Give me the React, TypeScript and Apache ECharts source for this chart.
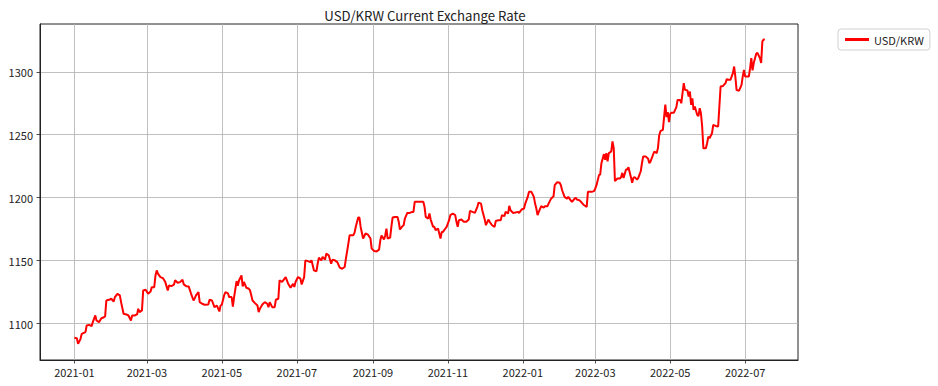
import React, { useEffect, useRef } from "react";
import * as echarts from "echarts";

const dates: string[] = [
  "2021-01-01","2021-01-03","2021-01-04","2021-01-06","2021-01-07","2021-01-10","2021-01-11","2021-01-13","2021-01-15","2021-01-16","2021-01-18","2021-01-19","2021-01-21","2021-01-23","2021-01-25","2021-01-26","2021-01-27","2021-01-30","2021-01-31",
  "2021-02-02","2021-02-03","2021-02-05","2021-02-07","2021-02-08","2021-02-10","2021-02-13","2021-02-14","2021-02-16","2021-02-17","2021-02-19","2021-02-21","2021-02-22","2021-02-23","2021-02-25","2021-02-26","2021-02-28",
  "2021-03-02","2021-03-04","2021-03-05","2021-03-07","2021-03-08","2021-03-09","2021-03-10","2021-03-12","2021-03-14","2021-03-16","2021-03-18","2021-03-19","2021-03-21","2021-03-23","2021-03-24","2021-03-26","2021-03-28","2021-03-30","2021-03-31",
  "2021-04-02","2021-04-04","2021-04-06","2021-04-08","2021-04-09","2021-04-10","2021-04-12","2021-04-13","2021-04-15","2021-04-17","2021-04-20","2021-04-21","2021-04-23","2021-04-25","2021-04-27","2021-04-29","2021-04-30",
  "2021-05-01","2021-05-03","2021-05-04","2021-05-06","2021-05-07","2021-05-09","2021-05-10","2021-05-11","2021-05-13","2021-05-14","2021-05-15","2021-05-17","2021-05-18","2021-05-19","2021-05-21","2021-05-23","2021-05-24","2021-05-26","2021-05-28","2021-05-30","2021-05-31",
  "2021-06-01","2021-06-03","2021-06-05","2021-06-07","2021-06-08","2021-06-09","2021-06-11","2021-06-13","2021-06-14","2021-06-16","2021-06-17","2021-06-19","2021-06-20","2021-06-22","2021-06-24","2021-06-26","2021-06-28","2021-06-29","2021-06-30",
  "2021-07-02","2021-07-04","2021-07-05","2021-07-07","2021-07-08","2021-07-10","2021-07-12","2021-07-13","2021-07-15","2021-07-17","2021-07-18","2021-07-19","2021-07-21","2021-07-22","2021-07-24","2021-07-25","2021-07-27","2021-07-29","2021-07-30",
  "2021-08-01","2021-08-03","2021-08-05","2021-08-07","2021-08-09","2021-08-10","2021-08-12","2021-08-13","2021-08-16","2021-08-17","2021-08-18","2021-08-20","2021-08-21","2021-08-22","2021-08-24","2021-08-26","2021-08-28","2021-08-30","2021-08-31",
  "2021-09-02","2021-09-04","2021-09-06","2021-09-07","2021-09-08","2021-09-10","2021-09-11","2021-09-12","2021-09-13","2021-09-15","2021-09-16","2021-09-17","2021-09-19","2021-09-21","2021-09-22","2021-09-23","2021-09-25","2021-09-26","2021-09-27","2021-09-29",
  "2021-10-01","2021-10-03","2021-10-04","2021-10-05","2021-10-07","2021-10-10","2021-10-12","2021-10-13","2021-10-14","2021-10-16","2021-10-17","2021-10-18","2021-10-20","2021-10-21","2021-10-22","2021-10-24","2021-10-25","2021-10-26","2021-10-27","2021-10-28","2021-10-30","2021-10-31",
  "2021-11-02","2021-11-03","2021-11-05","2021-11-07","2021-11-08","2021-11-09","2021-11-10","2021-11-12","2021-11-14","2021-11-16","2021-11-18","2021-11-19","2021-11-21","2021-11-23","2021-11-25","2021-11-26","2021-11-28","2021-11-29",
  "2021-12-01","2021-12-02","2021-12-04","2021-12-05","2021-12-07","2021-12-09","2021-12-10","2021-12-12","2021-12-14","2021-12-15","2021-12-17","2021-12-18","2021-12-20","2021-12-21","2021-12-22","2021-12-24","2021-12-26","2021-12-28","2021-12-29","2021-12-31",
  "2022-01-02","2022-01-03","2022-01-05","2022-01-06","2022-01-08","2022-01-10","2022-01-11","2022-01-12","2022-01-13","2022-01-14","2022-01-16","2022-01-18","2022-01-19","2022-01-21","2022-01-22","2022-01-24","2022-01-26","2022-01-27","2022-01-29","2022-01-31",
  "2022-02-01","2022-02-02","2022-02-04","2022-02-06","2022-02-07","2022-02-09","2022-02-10","2022-02-11","2022-02-13","2022-02-14","2022-02-16","2022-02-17","2022-02-19","2022-02-20","2022-02-22","2022-02-23","2022-02-26","2022-02-28",
  "2022-03-01","2022-03-02","2022-03-04","2022-03-05","2022-03-06","2022-03-08","2022-03-09","2022-03-10","2022-03-11","2022-03-12","2022-03-14","2022-03-15","2022-03-16","2022-03-17","2022-03-19","2022-03-21","2022-03-22","2022-03-23","2022-03-24","2022-03-26","2022-03-27","2022-03-28","2022-03-30","2022-03-31",
  "2022-04-01","2022-04-02","2022-04-04","2022-04-05","2022-04-07","2022-04-08","2022-04-09","2022-04-11","2022-04-13","2022-04-14","2022-04-15","2022-04-17","2022-04-18","2022-04-20","2022-04-21","2022-04-22","2022-04-23","2022-04-25","2022-04-26","2022-04-27","2022-04-28","2022-04-29","2022-04-30",
  "2022-05-01","2022-05-02","2022-05-04","2022-05-06","2022-05-07","2022-05-09","2022-05-10","2022-05-12","2022-05-13","2022-05-15","2022-05-16","2022-05-17","2022-05-18","2022-05-19","2022-05-20","2022-05-21","2022-05-23","2022-05-24","2022-05-25","2022-05-26","2022-05-27","2022-05-28","2022-05-30","2022-05-31",
  "2022-06-01","2022-06-02","2022-06-04","2022-06-05","2022-06-07","2022-06-09","2022-06-10","2022-06-11","2022-06-13","2022-06-15","2022-06-16","2022-06-18","2022-06-19","2022-06-21","2022-06-22","2022-06-23","2022-06-24","2022-06-26","2022-06-28","2022-06-29","2022-06-30",
  "2022-07-01","2022-07-02","2022-07-04","2022-07-05","2022-07-06","2022-07-07","2022-07-08","2022-07-10","2022-07-11","2022-07-13","2022-07-14","2022-07-15","2022-07-16","2022-07-17",
];

const rates: number[] = [
  1088.6,1088.3,1083.8,1087.8,1091.8,1093.1,1098.4,1098.9,1097.9,1101.1,1106.4,1102.4,1101.1,1104.2,1105.0,1105.6,1118.3,1119.1,1119.7,
  1117.5,1121.0,1123.6,1122.3,1117.0,1107.7,1106.9,1106.4,1102.4,1106.4,1106.4,1107.2,1111.7,1109.0,1110.4,1126.3,1126.8,
  1123.6,1125.5,1128.9,1128.9,1138.2,1142.2,1139.6,1136.9,1136.1,1132.9,1126.3,1130.3,1129.7,1130.8,1134.3,1132.4,1132.9,1134.8,1131.1,
  1129.7,1129.5,1123.6,1118.3,1120.2,1122.3,1125.0,1117.0,1115.7,1114.9,1115.1,1118.9,1118.3,1113.0,1114.3,1109.6,1114.3,
  1114.9,1122.8,1124.9,1124.0,1121.0,1121.0,1113.5,1121.0,1133.7,1130.0,1134.2,1138.2,1129.5,1133.0,1128.4,1127.6,1126.3,1118.3,1116.2,1114.3,1109.0,
  1111.7,1115.1,1117.0,1115.7,1113.0,1117.0,1113.0,1113.0,1118.9,1119.7,1134.3,1133.0,1134.3,1136.9,1131.6,1128.4,1131.6,1129.0,1133.0,
  1136.9,1135.6,1131.0,1136.9,1150.2,1149.6,1148.8,1150.2,1142.2,1141.4,1147.5,1152.3,1150.2,1152.9,1150.7,1155.5,1154.2,1147.5,1150.7,
  1150.2,1148.8,1144.4,1143.5,1144.9,1151.5,1163.5,1170.1,1170.1,1172.0,1176.7,1184.2,1184.2,1176.7,1167.5,1171.5,1170.6,1167.5,1159.5,
  1157.6,1157.3,1158.7,1166.1,1170.0,1166.7,1170.0,1175.4,1167.5,1168.3,1176.8,1184.2,1184.7,1184.7,1180.8,1174.7,1177.3,1178.1,1183.4,1187.9,
  1187.9,1188.7,1188.7,1196.7,1196.7,1196.7,1196.7,1192.7,1184.7,1183.4,1187.4,1182.6,1176.8,1176.8,1174.2,1175.5,1171.5,1167.5,1172.8,1172.8,1175.5,1176.8,
  1182.1,1186.1,1187.4,1186.1,1180.8,1176.8,1182.1,1182.6,1180.8,1180.8,1182.6,1189.5,1188.7,1187.9,1192.7,1196.1,1195.3,1190.0,
  1182.6,1178.1,1182.6,1180.8,1178.1,1176.8,1181.5,1182.1,1182.1,1186.1,1185.3,1188.7,1187.4,1193.5,1190.0,1187.9,1188.2,1188.7,1187.9,1190.6,
  1191.4,1195.3,1200.6,1204.6,1204.6,1200.6,1195.3,1191.4,1186.1,1188.7,1193.2,1192.1,1193.2,1193.2,1195.3,1199.2,1201.1,1209.9,1212.3,1211.8,
  1209.9,1205.9,1200.6,1199.2,1200.6,1197.9,1196.6,1197.9,1200.0,1198.5,1197.9,1197.1,1194.8,1194.0,1192.7,1204.6,1204.6,1205.2,
  1207.3,1209.9,1217.9,1218.5,1227.4,1234.6,1230.1,1235.4,1228.8,1235.4,1236.7,1244.7,1239.4,1213.1,1215.2,1215.2,1216.3,1219.7,1215.7,1222.4,1222.4,1224.2,1216.3,1211.8,
  1215.7,1216.3,1214.4,1215.7,1221.0,1227.4,1232.8,1232.8,1231.0,1227.4,1228.8,1234.1,1236.7,1235.4,1239.4,1249.4,1252.8,1253.9,1264.0,1273.9,1264.0,1268.0,1260.0,
  1266.6,1267.5,1267.5,1272.0,1277.7,1277.7,1275.0,1291.0,1285.7,1285.2,1280.4,1284.3,1273.7,1279.0,1269.7,1272.4,1265.7,1264.9,1271.1,1267.0,1256.4,1239.2,1239.2,1243.2,
  1248.5,1247.2,1251.2,1257.8,1257.0,1256.5,1272.4,1288.3,1288.8,1291.0,1294.2,1293.6,1293.6,1298.9,1304.2,1296.2,1285.5,1285.0,1289.5,1296.2,1301.5,
  1296.2,1296.2,1296.2,1302.9,1310.9,1301.1,1307.0,1314.4,1315.0,1310.9,1307.0,1324.2,1325.6,1325.6,
];

const xTickLabels: string[] = [
  "2021-01","2021-03","2021-05","2021-07","2021-09","2021-11",
  "2022-01","2022-03","2022-05","2022-07",
];
const yTickValues: number[] = [1100, 1150, 1200, 1250, 1300];
const xRange: string[] = ["2020-12-04", "2022-08-13"];
const yRange: number[] = [1071, 1338];
const seriesName = "USD/KRW";
const titleText = "USD/KRW Current Exchange Rate";

function toTime(s: string): number {
  const p = s.split("-").map(Number);
  return new Date(p[0], (p[1] || 1) - 1, p[2] || 1).getTime();
}
function pad(n: number): string {
  return n < 10 ? "0" + n : String(n);
}

const FONT = "'Noto Sans CJK KR', 'Noto Sans', sans-serif";

export default function App() {
  const ref = useRef<HTMLDivElement>(null);
  useEffect(() => {
    if (!ref.current) return;
    const chart = echarts.init(ref.current, null, { renderer: "svg" });
    const xTicks = xTickLabels.map(toTime);
    chart.setOption({
      animation: false,
      backgroundColor: "#ffffff",
      textStyle: { fontFamily: FONT },
      title: {
        text: titleText,
        left: 420,
        textAlign: "center",
        top: 4,
        textStyle: { fontFamily: FONT, fontSize: 13.2, fontWeight: "normal", color: "#222" },
      },
      legend: {
        left: 838,
        top: 29,
        orient: "vertical",
        padding: [5, 6, 5, 7],
        itemWidth: 24,
        itemHeight: 3,
        itemGap: 5,
        icon: "rect",
        borderColor: "#d0d0d0",
        borderWidth: 1,
        borderRadius: 3,
        backgroundColor: "#ffffff",
        textStyle: { fontFamily: FONT, fontSize: 11, color: "#222" },
        data: [seriesName],
      },
      grid: {
        left: 40,
        right: 140,
        top: 24,
        bottom: 26,
        show: true,
        borderColor: "#222",
        borderWidth: 1,
        containLabel: false,
      },
      xAxis: {
        type: "value",
        min: toTime(xRange[0]),
        max: toTime(xRange[1]),
        axisLine: { show: true, lineStyle: { color: "#222", width: 1 } },
        axisTick: {
          show: true,
          inside: false,
          length: 3.5,
          lineStyle: { color: "#222", width: 0.8 },
          customValues: xTicks,
        },
        axisLabel: {
          customValues: xTicks,
          margin: 6,
          fontFamily: FONT,
          fontSize: 11,
          color: "#222",
          formatter: (v: number) => {
            const d = new Date(v);
            return d.getFullYear() + "-" + pad(d.getMonth() + 1);
          },
        },
        splitLine: { show: true, lineStyle: { color: "#b0b0b0", width: 0.8 } },
      },
      yAxis: {
        type: "value",
        min: yRange[0],
        max: yRange[1],
        axisLine: { show: true, lineStyle: { color: "#222", width: 1 } },
        axisTick: {
          show: true,
          inside: false,
          length: 3.5,
          lineStyle: { color: "#222", width: 0.8 },
          customValues: yTickValues,
        },
        axisLabel: {
          customValues: yTickValues,
          margin: 7,
          fontFamily: FONT,
          fontSize: 11,
          color: "#222",
          formatter: (v: number) => String(v),
        },
        splitLine: { show: true, lineStyle: { color: "#b0b0b0", width: 0.8 } },
      },
      series: [
        {
          name: seriesName,
          type: "line",
          data: dates.map((d, i) => [toTime(d), rates[i]]),
          showSymbol: false,
          symbol: "none",
          lineStyle: { color: "#ff0000", width: 2 },
          itemStyle: { color: "#ff0000" },
        },
      ],
    });
    return () => chart.dispose();
  }, []);
  return (
    <div
      ref={ref}
      style={{ position: "fixed", left: 0, top: 0, width: 938, height: 386, background: "#fff" }}
    />
  );
}
